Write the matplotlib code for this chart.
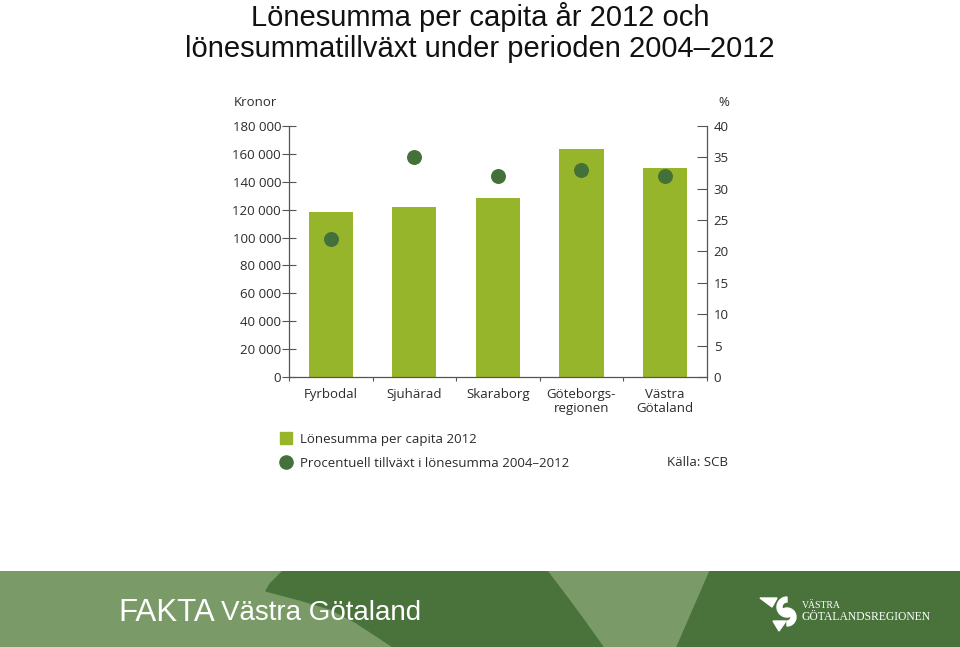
import matplotlib.pyplot as plt
from matplotlib.patches import Polygon, Wedge
from matplotlib.lines import Line2D

# data
regions = ['Fyrbodal', 'Sjuhärad', 'Skaraborg', 'Göteborgs-\nregionen', 'Västra\nGötaland']
wage_per_capita = [118000, 122000, 128500, 163500, 150000]   # kronor, 2012
growth_pct = [22, 35, 32, 33, 32]                             # % growth 2004-2012
left_ticks = [0, 20000, 40000, 60000, 80000, 100000, 120000, 140000, 160000, 180000]
right_ticks = [0, 5, 10, 15, 20, 25, 30, 35, 40]

bar_color = '#97b52b'
dot_color = '#44713a'
text_color = '#2b2b2b'
axis_color = '#555555'
light_green = '#7a9a68'
dark_green = '#4a733c'

W, H = 960, 647
fig = plt.figure(figsize=(9.6, 6.47), dpi=100)
plt.rcParams['font.family'] = ['Open Sans', 'DejaVu Sans']

# title
title_font = ['Liberation Sans', 'DejaVu Sans']
fig.text(0.5, 1 - 17 / H, 'Lönesumma per capita år 2012 och', ha='center', va='center',
         fontsize=21, family=title_font, color='#111111')
fig.text(0.5, 1 - 49 / H, 'lönesummatillväxt under perioden 2004–2012', ha='center', va='center',
         fontsize=21, family=title_font, color='#111111')

# chart axes
ax = fig.add_axes([289 / W, 1 - 377.3 / H, (706.7 - 289) / W, (377.3 - 125.7) / H])
x = range(len(regions))
ax.bar(x, wage_per_capita, width=0.53, color=bar_color, zorder=2)
ax.set_xlim(-0.5, len(regions) - 0.5)
ax.set_ylim(0, 180000)
ax.set_yticks(left_ticks)
ax.set_yticklabels([f'{v:,}'.replace(',', ' ') for v in left_ticks])
ax.set_xticks([i + 0.5 for i in range(-1, len(regions))], minor=False)
ax.set_xticklabels([])
ax.set_xticks(list(x), minor=True)
ax.set_xticklabels(regions, minor=True)
for lab in ax.get_xticklabels(minor=True):
    lab.set_linespacing(1.15)
ax.tick_params(axis='x', which='major', direction='out', length=3, color=axis_color, width=0.8)
ax.tick_params(axis='x', which='minor', length=0, pad=7.5, labelsize=9.5, labelcolor=text_color)
ax.tick_params(axis='y', direction='inout', length=9.5, width=0.8, color=axis_color,
               labelsize=9.5, labelcolor=text_color, pad=1)
for s in ['top', 'right']:
    ax.spines[s].set_visible(False)
for s in ['left', 'bottom']:
    ax.spines[s].set_color(axis_color)
    ax.spines[s].set_linewidth(0.9)

ax2 = ax.twinx()
ax2.scatter(x, growth_pct, s=95, color=dot_color, zorder=3)
ax2.set_ylim(0, 40)
ax2.set_yticks(right_ticks)
ax2.tick_params(axis='y', direction='in', length=7, width=0.8, color=axis_color,
                labelsize=9.5, labelcolor=text_color, pad=5)
for s in ['top', 'left', 'bottom']:
    ax2.spines[s].set_visible(False)
ax2.spines['right'].set_color(axis_color)
ax2.spines['right'].set_linewidth(0.9)

fig.text(234 / W, 1 - 102 / H, 'Kronor', ha='left', va='center', fontsize=9.5, color=text_color)
fig.text(729 / W, 1 - 102 / H, '%', ha='right', va='center', fontsize=9.5, color=text_color)

# legend
handles = [
    Line2D([], [], marker='s', linestyle='none', markersize=8.8, color=bar_color),
    Line2D([], [], marker='o', linestyle='none', markersize=9.5, color=dot_color),
]
fig.legend(handles, ['Lönesumma per capita 2012', 'Procentuell tillväxt i lönesumma 2004–2012'],
           loc='upper left', bbox_to_anchor=(279 / W, 1 - 433 / H), frameon=False,
           fontsize=9.5, handlelength=1.0, handletextpad=0.6, labelspacing=0.8,
           borderpad=0, borderaxespad=0, labelcolor=text_color)
fig.text(728 / W, 1 - 462 / H, 'Källa: SCB', ha='right', va='center', fontsize=9.5, color=text_color)

# footer band
fax = fig.add_axes([0, 0, 1, 76 / H])
fax.set_xlim(0, W)
fax.set_ylim(0, 76)
fax.axis('off')
fax.add_patch(Polygon([(0, 0), (W, 0), (W, 76), (0, 76)], color=light_green))
fax.add_patch(Polygon([(283, 76), (270, 63), (266, 56), (300, 47), (330, 38), (355, 25),
                       (375, 12), (393, 0), (603, 0), (583, 28), (563, 55), (547, 76)],
                      color=dark_green))
fax.add_patch(Polygon([(710, 76), (677, 0), (W, 0), (W, 76)], color=dark_green))
fax.text(118, 26, 'FAKTA', ha='left', va='baseline', fontsize=22.5, color='white',
         family=['Liberation Sans', 'DejaVu Sans'])
fax.text(221, 27, 'Västra Götaland', ha='left', va='baseline', fontsize=20, color='white',
         family=['Liberation Sans', 'DejaVu Sans'])
# logo
fax.add_patch(Polygon([(760, 49), (777, 49), (772, 40)], color='white'))
fax.add_patch(Wedge((787, 40), 10, 90, 300, width=5, color='white'))
fax.add_patch(Wedge((787, 30), 9, -90, 120, width=5, color='white'))
fax.add_patch(Polygon([(773, 26), (786, 26), (779, 16)], color='white'))
fax.text(802, 41, 'VÄSTRA', ha='left', va='center', fontsize=7, color='white',
         family=['Liberation Serif', 'DejaVu Serif'])
fax.text(802, 30, 'GÖTALANDSREGIONEN', ha='left', va='center', fontsize=8.4, color='white',
         family=['Liberation Serif', 'DejaVu Serif'])

fig.savefig('out.png', dpi=100)
